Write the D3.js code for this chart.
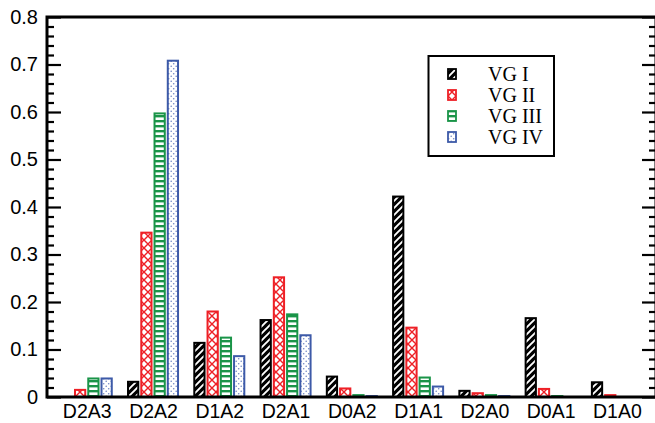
<!DOCTYPE html>
<html>
<head>
<meta charset="utf-8">
<script src="https://cdn.jsdelivr.net/npm/d3@7/dist/d3.min.js"></script>
<style>
  html, body { margin: 0; padding: 0; background: #fff; }
  svg { display: block; }
</style>
</head>
<body>
<svg id="chart" width="655" height="423"></svg>
<script>
// Categories along the x axis
const categories = ["D2A3", "D2A2", "D1A2", "D2A1", "D0A2", "D1A1", "D2A0", "D0A1", "D1A0"];

// Series values, one array per group
const vgI   = [0.000, 0.032, 0.114, 0.162, 0.043, 0.422, 0.013, 0.166, 0.031];
const vgII  = [0.015, 0.346, 0.180, 0.252, 0.018, 0.146, 0.008, 0.017, 0.004];
const vgIII = [0.039, 0.597, 0.125, 0.174, 0.004, 0.041, 0.004, 0.002, 0.000];
const vgIV  = [0.039, 0.708, 0.086, 0.130, 0.002, 0.022, 0.002, 0.000, 0.000];

const seriesNames = ["VG I", "VG II", "VG III", "VG IV"];

// Y axis tick values
const majorTicks = [0, 0.1, 0.2, 0.3, 0.4, 0.5, 0.6, 0.7, 0.8];
const minorTicks = d3.range(0, 0.8001, 0.02).filter(v => Math.abs(v * 10 - Math.round(v * 10)) > 1e-6);

const series = [vgI, vgII, vgIII, vgIV];
const colors = ["#000000", "#ee2026", "#1a9448", "#3d5aa8"];
const patternIds = ["pat-diag", "pat-cross", "pat-hlines", "pat-dots"];

const svg = d3.select("#chart");
const plot = { left: 47, right: 656, top: 17, bottom: 397 };

const x = d3.scaleLinear().domain([-0.6, 8.59]).range([plot.left, plot.right]);
const y = d3.scaleLinear().domain([0, 0.8]).range([plot.bottom, plot.top]);

// ---- fill patterns ----
const defs = svg.append("defs");

// VG I: black with white diagonal stripes
const pd = defs.append("pattern").attr("id", "pat-diag")
  .attr("patternUnits", "userSpaceOnUse").attr("width", 7).attr("height", 7);
pd.append("rect").attr("width", 7).attr("height", 7).attr("fill", "#000");
pd.append("path").attr("d", "M-1,8 L8,-1 M-1,1 L1,-1 M6,8 L8,6")
  .attr("stroke", "#fff").attr("stroke-width", 1.9);

// VG II: red cross-hatch
const pc = defs.append("pattern").attr("id", "pat-cross")
  .attr("patternUnits", "userSpaceOnUse").attr("width", 8).attr("height", 8);
pc.append("rect").attr("width", 8).attr("height", 8).attr("fill", "#fff");
pc.append("path").attr("d", "M0,0 L8,8 M0,8 L8,0")
  .attr("stroke", colors[1]).attr("stroke-width", 1.4);

// VG III: green horizontal lines
const ph = defs.append("pattern").attr("id", "pat-hlines")
  .attr("patternUnits", "userSpaceOnUse").attr("width", 5).attr("height", 5);
ph.append("rect").attr("width", 5).attr("height", 5).attr("fill", "#fff");
ph.append("rect").attr("y", 0).attr("width", 5).attr("height", 2.4).attr("fill", colors[2]);

// VG IV: blue dots
const pt = defs.append("pattern").attr("id", "pat-dots")
  .attr("patternUnits", "userSpaceOnUse").attr("width", 5).attr("height", 5);
pt.append("rect").attr("width", 5).attr("height", 5).attr("fill", "#fff");
pt.append("circle").attr("cx", 1.2).attr("cy", 1.2).attr("r", 0.8).attr("fill", "#6f86c4");
pt.append("circle").attr("cx", 3.7).attr("cy", 3.7).attr("r", 0.8).attr("fill", "#6f86c4");

// ---- bars ----
const barUnits = 0.2;
const stride = x(barUnits) - x(0);
const barsG = svg.append("g");
series.forEach((vals, s) => {
  barsG.selectAll(null)
    .data(vals.map((v, i) => ({ v, i })).filter(d => d.v > 0))
    .enter().append("rect")
    .attr("x", d => x(d.i - 0.4 + s * barUnits) + 1.5)
    .attr("width", stride - 3)
    .attr("y", d => y(d.v))
    .attr("height", d => y(0) - y(d.v))
    .attr("fill", `url(#${patternIds[s]})`)
    .attr("stroke", colors[s])
    .attr("stroke-width", 2);
});

// ---- axes ----
const font = "'Liberation Sans', Arial, Helvetica, sans-serif";

const leftMajor = svg.append("g").attr("transform", `translate(${plot.left},0)`)
  .call(d3.axisLeft(y).tickValues(majorTicks).tickSize(-14).tickPadding(9)
    .tickFormat(d => d === 0 ? "0" : d3.format(".1f")(d)));
leftMajor.select(".domain").remove();
leftMajor.selectAll(".tick line").attr("stroke", "#000").attr("stroke-width", 2.2);
leftMajor.selectAll(".tick text").attr("font-family", font).attr("font-size", 20).attr("fill", "#000");

const leftMinor = svg.append("g").attr("transform", `translate(${plot.left},0)`)
  .call(d3.axisLeft(y).tickValues(minorTicks).tickSize(-7).tickFormat(""));
leftMinor.select(".domain").remove();
leftMinor.selectAll(".tick line").attr("stroke", "#000").attr("stroke-width", 2.2);

const rightMajor = svg.append("g").attr("transform", `translate(${plot.right},0)`)
  .call(d3.axisRight(y).tickValues(majorTicks).tickSize(-14).tickFormat(""));
rightMajor.select(".domain").remove();
rightMajor.selectAll(".tick line").attr("stroke", "#000").attr("stroke-width", 2.2);

const rightMinor = svg.append("g").attr("transform", `translate(${plot.right},0)`)
  .call(d3.axisRight(y).tickValues(minorTicks).tickSize(-7).tickFormat(""));
rightMinor.select(".domain").remove();
rightMinor.selectAll(".tick line").attr("stroke", "#000").attr("stroke-width", 2.2);

const bottom = svg.append("g").attr("transform", `translate(0,${plot.bottom})`)
  .call(d3.axisBottom(x).tickValues(d3.range(categories.length)).tickSize(0).tickPadding(0)
    .tickFormat(i => categories[i]));
bottom.select(".domain").remove();
bottom.selectAll(".tick text")
  .attr("font-family", font).attr("font-size", 19.5).attr("fill", "#000")
  .attr("dy", null).attr("y", 21);

// frame
svg.append("path")
  .attr("d", `M${plot.right},${plot.top} H${plot.left} V${plot.bottom} H${plot.right} Z`)
  .attr("fill", "none").attr("stroke", "#000").attr("stroke-width", 3);

// ---- legend ----
const legend = svg.append("g");
legend.append("rect").attr("x", 428.5).attr("y", 56).attr("width", 125.5).attr("height", 100)
  .attr("fill", "#fff").attr("stroke", "#000").attr("stroke-width", 2);

seriesNames.forEach((name, s) => {
  const cy = 74 + s * 21;
  legend.append("rect")
    .attr("x", 448).attr("y", cy - 5).attr("width", 8).attr("height", 10)
    .attr("fill", `url(#${patternIds[s]})`)
    .attr("stroke", colors[s]).attr("stroke-width", 1.8);
  legend.append("text")
    .attr("x", 488).attr("y", cy + 6.5)
    .attr("font-family", "'Liberation Serif', 'Times New Roman', serif")
    .attr("font-size", 20).attr("fill", "#000")
    .text(name);
});
</script>
</body>
</html>
